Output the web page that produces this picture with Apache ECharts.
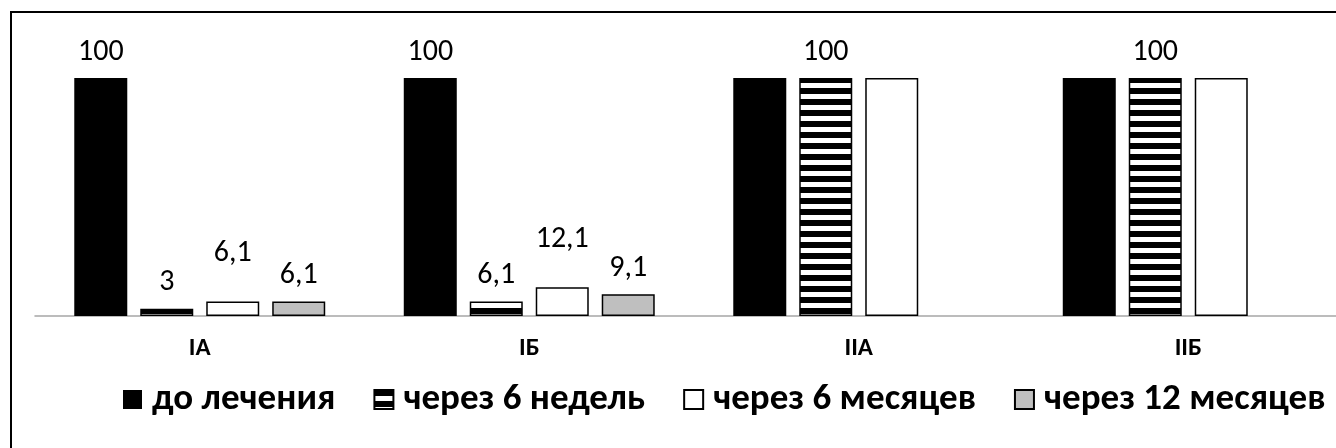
<!DOCTYPE html>
<html>
<head>
<meta charset="utf-8">
<script src="https://cdn.jsdelivr.net/npm/echarts@6/dist/echarts.min.js"></script>
<style>
  html, body { margin: 0; padding: 0; background: #fff; }
  #chart { width: 1336px; height: 448px; }
</style>
</head>
<body>
<div id="chart"></div>
<script>
// Patient groups on the category axis
const groups = ['IА', 'IБ', 'IIА', 'IIБ'];

// Share of patients (%) at each check-up
const beforeTreatment = [100, 100, 100, 100];
const after6Weeks     = [3, 6.1, 100, 100];
const after6Months    = [6.1, 12.1, 100, 100];
const after12Months   = [6.1, 9.1, null, null];

// Which bars carry a value label
const beforeLabelShown = [true, true, false, false];
const weeksLabelShown  = [true, true, true, true];
const monthsLabelShown = [true, true, false, false];
const yearLabelShown   = [true, true, false, false];

const seriesNames = ['до лечения', 'через 6 недель', 'через 6 месяцев', 'через 12 месяцев'];

const FONT = "Carlito, Lato, 'Open Sans', sans-serif";

// Horizontal black/white hatching used for the 6-week series
function stripePattern() {
  const c = document.createElement('canvas');
  c.width = 4; c.height = 11;
  const ctx = c.getContext('2d');
  ctx.fillStyle = '#fff';
  ctx.fillRect(0, 0, 4, 11);
  ctx.fillStyle = '#000';
  ctx.fillRect(0, 0, 4, 6);
  return { image: c, repeat: 'repeat' };
}

function fmt(v) { return String(v).replace('.', ','); }

function withLabels(values, shown) {
  return values.map((v, i) => ({ value: v, label: { show: shown[i] && v != null } }));
}

function barSeries(name, values, shown, itemStyle, labelDistance) {
  return {
    name: name,
    type: 'bar',
    barWidth: 53,
    barGap: '24.5%',
    data: withLabels(values, shown),
    itemStyle: itemStyle,
    label: {
      position: 'top',
      distance: labelDistance,
      color: '#000',
      fontFamily: FONT,
      fontSize: 30,
      formatter: p => fmt(p.value)
    }
  };
}

const chart = echarts.init(document.getElementById('chart'), null, { renderer: 'canvas' });

chart.setOption({
  animation: false,
  backgroundColor: '#fff',
  graphic: [{
    type: 'rect',
    shape: { x: 11, y: 12, width: 1400, height: 500 },
    style: { fill: 'none', stroke: '#000', lineWidth: 2 },
    silent: true,
    z: 100
  }],
  grid: { left: 35, top: 78, width: 1318, height: 238, outerBoundsMode: 'none', containLabel: false },
  xAxis: {
    type: 'category',
    data: groups,
    axisLine: { lineStyle: { color: '#a6a6a6', width: 1.5 } },
    axisTick: { show: false },
    axisLabel: {
      color: '#000',
      fontFamily: FONT,
      fontWeight: 'bold',
      fontSize: 25,
      margin: 20
    }
  },
  yAxis: {
    type: 'value',
    min: 0,
    max: 100,
    show: false,
    splitLine: { show: false }
  },
  legend: {
    left: 118,
    top: 376,
    itemWidth: 19,
    itemHeight: 19,
    itemGap: 38,
    icon: 'rect',
    textStyle: {
      color: '#000',
      fontFamily: FONT,
      fontWeight: 'bold',
      fontSize: 37,
      padding: [0, 0, 0, 5]
    },
    data: seriesNames
  },
  series: [
    barSeries(seriesNames[0], beforeTreatment, beforeLabelShown,
      { color: '#000' }, 11),
    barSeries(seriesNames[1], after6Weeks, weeksLabelShown,
      { color: stripePattern(), borderColor: '#000', borderWidth: 1.5 }, 11),
    barSeries(seriesNames[2], after6Months, monthsLabelShown,
      { color: '#fff', borderColor: '#000', borderWidth: 1.5 }, 33),
    barSeries(seriesNames[3], after12Months, yearLabelShown,
      { color: '#bfbfbf', borderColor: '#000', borderWidth: 1.5 }, 11)
  ]
});
</script>
</body>
</html>
